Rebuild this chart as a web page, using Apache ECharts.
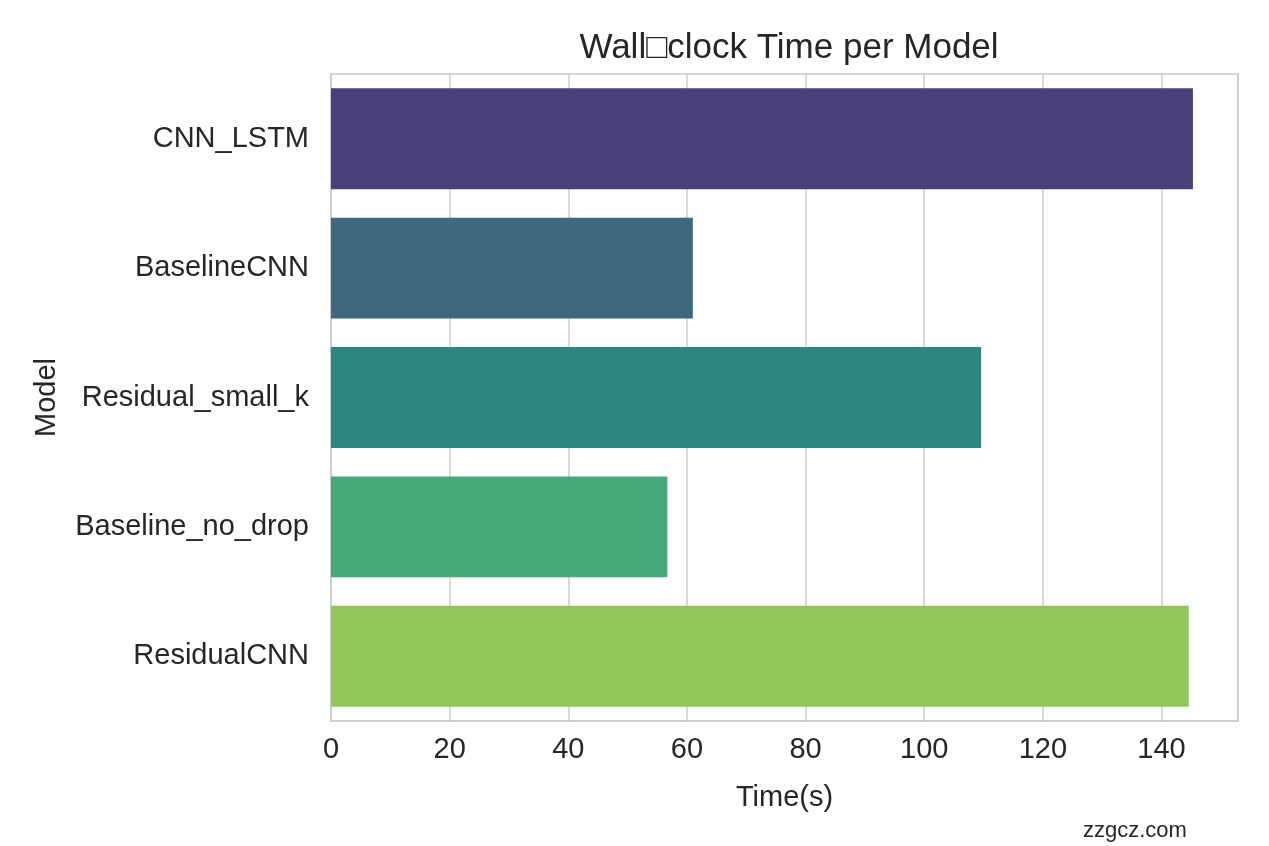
<!DOCTYPE html>
<html>
<head>
<meta charset="utf-8">
<script src="https://cdn.jsdelivr.net/npm/echarts@6/dist/echarts.min.js"></script>
<style>
html,body{margin:0;padding:0;background:#fff;}
#chart{width:1269px;height:846px;}
</style>
</head>
<body>
<div id="chart"></div>
<script>
const categories = ["CNN_LSTM", "BaselineCNN", "Residual_small_k", "Baseline_no_drop", "ResidualCNN"];
const times = [145.3, 61.0, 109.6, 56.7, 144.6];
const barColors = ["#4b3f7a", "#3f677f", "#2f8580", "#47a97a", "#92c55a"];
const xTicks = [0, 20, 40, 60, 80, 100, 120, 140];
const titleText = "Wall\u25A1clock Time per Model";

const font = "Liberation Sans, Arial, sans-serif";
const chart = echarts.init(document.getElementById('chart'));
chart.setOption({
  backgroundColor: '#ffffff',
  animation: false,
  title: {
    text: titleText,
    left: 784, textAlign: 'center', top: 26,
    textStyle: {fontFamily: font, fontSize: 35, fontWeight: 'normal', color: '#262626'}
  },
  graphic: [{
    type: 'text', left: 1083, top: 820,
    style: {text: 'zzgcz.com', fontFamily: font, fontSize: 22, fill: '#262626'}
  }],
  grid: {left: 331, right: 31, top: 74, bottom: 125, show: true, borderColor: '#cccccc', borderWidth: 1.5, containLabel: false},
  xAxis: {
    type: 'value', min: 0, max: 152.9, interval: 20,
    name: 'Time(s)', nameLocation: 'middle', nameGap: 62,
    nameTextStyle: {fontFamily: font, fontSize: 29, color: '#262626'},
    axisLine: {show: true, lineStyle: {color: '#cccccc', width: 1.5}},
    axisTick: {show: false},
    axisLabel: {fontFamily: font, fontSize: 29, color: '#262626', margin: 14, showMaxLabel: false,
      formatter: v => xTicks.includes(v) ? String(v) : ''},
    splitLine: {show: true, lineStyle: {color: '#cccccc', width: 1.5}}
  },
  yAxis: {
    type: 'category', data: categories, inverse: true,
    name: 'Model', nameLocation: 'middle', nameGap: 270, nameRotate: 90,
    nameTextStyle: {fontFamily: font, fontSize: 29, color: '#262626'},
    axisLine: {show: true, lineStyle: {color: '#cccccc', width: 1.5}},
    axisTick: {show: false},
    axisLabel: {fontFamily: font, fontSize: 29, color: '#262626', margin: 22},
    splitLine: {show: false}
  },
  series: [{
    type: 'bar',
    data: times.map((v, i) => ({value: v, itemStyle: {color: barColors[i]}})),
    barCategoryGap: '22%'
  }]
});
</script>
</body>
</html>
